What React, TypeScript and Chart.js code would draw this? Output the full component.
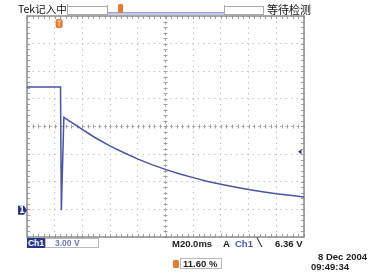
import React, { useEffect, useRef } from 'react';
import { Chart, registerables } from 'chart.js';

Chart.register(...registerables);

// Horizontal position in divisions (M 20.0 ms/div), 10 divisions
const timeDiv = [0, 1.21, 1.24, 1.33, 1.91, 2.42, 2.99, 3.5, 4.01, 4.51, 5.02, 5.52, 6.03, 6.53, 7.04, 7.55, 8.05, 8.56, 9.06, 9.57, 10.0];
// Ch1 vertical position in divisions (3.00 V/div), 8 divisions
const ch1Div = [1.43, 1.43, -3.03, 0.33, -0.05, -0.38, -0.7, -0.95, -1.18, -1.38, -1.56, -1.72, -1.86, -1.99, -2.1, -2.2, -2.29, -2.37, -2.44, -2.5, -2.55];

const xRange = [0, 10];
const yRange = [-4, 4];
const triggerPositionPct = 11.6;
const triggerLevelDiv = -0.91;
const groundDiv = -3.03;

const headerLeft = 'Tek记入中';
const headerRight = '等待检测';
const chLabel = 'Ch1';
const voltsPerDiv = '3.00 V';
const timebase = 'M20.0ms';
const trigSource = 'Ch1';
const trigLevel = '6.36 V';
const trigPosText = '11.60 %';
const dateText = '8 Dec 2004';
const timeText = '09:49:34';

const BLUE = '#4a54a3';
const NAVY = '#26348a';
const ORANGE = '#e8792e';

const scopePlugin = {
  id: 'scopeDecor',
  beforeDatasetsDraw(chart: any) {
    const { ctx, chartArea: a, scales } = chart;
    const xs = scales.x, ys = scales.y;
    const cx = xs.getPixelForValue((xRange[0] + xRange[1]) / 2);
    const cy = ys.getPixelForValue((yRange[0] + yRange[1]) / 2);
    ctx.save();
    // center lines
    ctx.strokeStyle = '#b0b0b0';
    ctx.lineWidth = 1;
    ctx.setLineDash([3, 2.5]);
    ctx.beginPath();
    ctx.moveTo(a.left, cy); ctx.lineTo(a.right, cy);
    ctx.moveTo(cx, a.top); ctx.lineTo(cx, a.bottom);
    ctx.stroke();
    ctx.setLineDash([]);
    // minor ticks
    ctx.strokeStyle = '#a0a0a0';
    ctx.beginPath();
    for (let v = xRange[0]; v <= xRange[1] + 1e-6; v += 0.2) {
      const px = Math.round(xs.getPixelForValue(v)) + 0.5;
      ctx.moveTo(px, cy - 2); ctx.lineTo(px, cy + 2);
      ctx.moveTo(px, a.top); ctx.lineTo(px, a.top + 3);
      ctx.moveTo(px, a.bottom); ctx.lineTo(px, a.bottom - 3);
    }
    for (let v = yRange[0]; v <= yRange[1] + 1e-6; v += 0.2) {
      const py = Math.round(ys.getPixelForValue(v)) + 0.5;
      ctx.moveTo(cx - 2, py); ctx.lineTo(cx + 2, py);
      ctx.moveTo(a.left, py); ctx.lineTo(a.left + 3, py);
      ctx.moveTo(a.right, py); ctx.lineTo(a.right - 3, py);
    }
    ctx.stroke();
    // frame
    ctx.strokeStyle = '#8c8c8c';
    ctx.lineWidth = 1.5;
    ctx.strokeRect(a.left, a.top, a.right - a.left, a.bottom - a.top);
    ctx.restore();
  },
  afterDatasetsDraw(chart: any) {
    const { ctx, chartArea: a, scales } = chart;
    const xs = scales.x, ys = scales.y;
    ctx.save();
    // trigger position marker (top of graticule)
    const tx = xs.getPixelForValue((xRange[1] - xRange[0]) * triggerPositionPct / 100);
    ctx.fillStyle = ORANGE;
    ctx.beginPath();
    ctx.roundRect(tx - 3.5, a.top + 3, 7, 9, 2);
    ctx.fill();
    ctx.strokeStyle = '#fbd2b0';
    ctx.lineWidth = 1.2;
    ctx.beginPath();
    ctx.moveTo(tx - 2, a.top + 5); ctx.lineTo(tx + 2, a.top + 5);
    ctx.moveTo(tx, a.top + 5); ctx.lineTo(tx, a.top + 10.5);
    ctx.stroke();
    // ground marker
    const gy = ys.getPixelForValue(groundDiv);
    ctx.fillStyle = NAVY;
    ctx.beginPath();
    ctx.moveTo(a.left - 9, gy - 4.5);
    ctx.lineTo(a.left - 3, gy - 4.5);
    ctx.lineTo(a.left, gy);
    ctx.lineTo(a.left - 3, gy + 4.5);
    ctx.lineTo(a.left - 9, gy + 4.5);
    ctx.closePath();
    ctx.fill();
    ctx.fillStyle = '#fff';
    ctx.font = 'bold 8px "DejaVu Sans"';
    ctx.textAlign = 'center';
    ctx.textBaseline = 'middle';
    ctx.fillText('1', a.left - 5, gy + 0.5);
    // trigger level marker
    const ly = ys.getPixelForValue(triggerLevelDiv);
    ctx.fillStyle = NAVY;
    ctx.beginPath();
    ctx.moveTo(a.right - 6, ly);
    ctx.lineTo(a.right - 2.5, ly - 2.5);
    ctx.lineTo(a.right - 2.5, ly + 2.5);
    ctx.closePath();
    ctx.fill();
    // record view bar at top
    const barL = 67, barR = 263, winL = 107, winR = 224;
    ctx.strokeStyle = '#a8a8a8';
    ctx.lineWidth = 1;
    ctx.beginPath();
    ctx.moveTo(barL + 0.5, 4); ctx.lineTo(barL + 0.5, 15);
    ctx.moveTo(barR + 0.5, 6); ctx.lineTo(barR + 0.5, 15);
    ctx.moveTo(barL, 14.5); ctx.lineTo(barR, 14.5);
    ctx.moveTo(barL, 6.5); ctx.lineTo(winL, 6.5);
    ctx.moveTo(winR, 6.5); ctx.lineTo(barR, 6.5);
    ctx.moveTo(winL + 0.5, 5); ctx.lineTo(winL + 0.5, 15);
    ctx.moveTo(winR + 0.5, 5); ctx.lineTo(winR + 0.5, 15);
    ctx.stroke();
    ctx.fillStyle = '#c4c8ec';
    ctx.fillRect(winL + 1, 12, winR - winL - 1, 3);
    ctx.strokeStyle = '#9aa0d0';
    ctx.beginPath();
    ctx.moveTo(winL, 12.5); ctx.lineTo(winR, 12.5);
    ctx.stroke();
    const bx = winL + (winR - winL) * triggerPositionPct / 100;
    ctx.fillStyle = ORANGE;
    ctx.beginPath();
    ctx.roundRect(bx - 2.5, 4, 5, 9, 1.5);
    ctx.fill();
    ctx.restore();
  },
};

export default function App() {
  const ref = useRef<HTMLCanvasElement>(null);
  useEffect(() => {
    document.body.style.margin = '0';
    const chart = new Chart(ref.current!, {
      type: 'line',
      data: {
        datasets: [
          {
            data: timeDiv.map((t, i) => ({ x: t, y: ch1Div[i] })),
            borderColor: BLUE,
            borderWidth: 1.5,
            pointRadius: 0,
            tension: 0,
            fill: false,
          },
        ],
      },
      options: {
        animation: false,
        responsive: false,
        events: [],
        layout: { padding: { left: 27, right: 78, top: 16, bottom: 38 } },
        plugins: { legend: { display: false }, tooltip: { enabled: false } },
        scales: {
          x: {
            type: 'linear',
            min: xRange[0],
            max: xRange[1],
            ticks: { display: false, stepSize: 1 },
            grid: { color: '#c4c4c4', lineWidth: 1, drawTicks: false },
            border: { display: false, dash: [1.5, 4] },
          },
          y: {
            type: 'linear',
            min: yRange[0],
            max: yRange[1],
            ticks: { display: false, stepSize: 1 },
            grid: { color: '#c4c4c4', lineWidth: 1, drawTicks: false },
            border: { display: false, dash: [1.5, 4] },
          },
        },
      },
      plugins: [scopePlugin],
    });
    return () => chart.destroy();
  }, []);

  const txt: React.CSSProperties = {
    position: 'absolute',
    fontFamily: '"Liberation Sans", Arial, sans-serif',
    fontWeight: 'bold',
    fontSize: '9.5px',
    lineHeight: '1',
    whiteSpace: 'nowrap',
    color: '#222',
  };

  return (
    <div style={{ position: 'relative', width: 382, height: 275, background: '#fff', overflow: 'hidden' }}>
      <canvas ref={ref} width={382} height={275} style={{ position: 'absolute', left: 0, top: 0 }} />
      <div style={{ ...txt, left: 18, top: 4, fontSize: '10.5px', fontWeight: 'normal', color: '#111', fontFamily: '"Noto Sans CJK SC", sans-serif', background: '#fff' }}>{headerLeft}</div>
      <div style={{ ...txt, left: 267, top: 4, fontSize: '11px', fontWeight: 'normal', color: '#111', fontFamily: '"Noto Sans CJK SC", sans-serif', background: '#fff' }}>{headerRight}</div>

      <div style={{ ...txt, left: 27, top: 238, width: 18, height: 10, background: NAVY, color: '#fff', fontSize: '8.5px', textAlign: 'center', lineHeight: '10px' }}>{chLabel}</div>
      <div style={{ ...txt, left: 45, top: 238, width: 54, height: 10, boxSizing: 'border-box', border: '1px solid #b8b8b8', color: '#6a76b8', fontSize: '8.5px', lineHeight: '8px', paddingLeft: 9 }}>{voltsPerDiv}</div>

      <div style={{ ...txt, left: 172, top: 239 }}>{timebase}</div>
      <div style={{ ...txt, left: 223, top: 239 }}>A</div>
      <div style={{ ...txt, left: 235, top: 239, color: '#4a58b0' }}>{trigSource}</div>
      <div style={{ ...txt, left: 257, top: 239, fontSize: '8px' }}>╲</div>
      <div style={{ ...txt, left: 275, top: 239 }}>{trigLevel}</div>

      <div style={{ position: 'absolute', left: 173, top: 260, width: 6, height: 8, background: ORANGE, borderRadius: 1.5 }} />
      <div style={{ ...txt, left: 180, top: 258, width: 42, height: 11, boxSizing: 'border-box', border: '1px solid #b8b8b8', paddingLeft: 2, lineHeight: '9px' }}>{trigPosText}</div>

      <div style={{ ...txt, left: 318, top: 252 }}>{dateText}</div>
      <div style={{ ...txt, left: 311, top: 262 }}>{timeText}</div>
    </div>
  );
}
